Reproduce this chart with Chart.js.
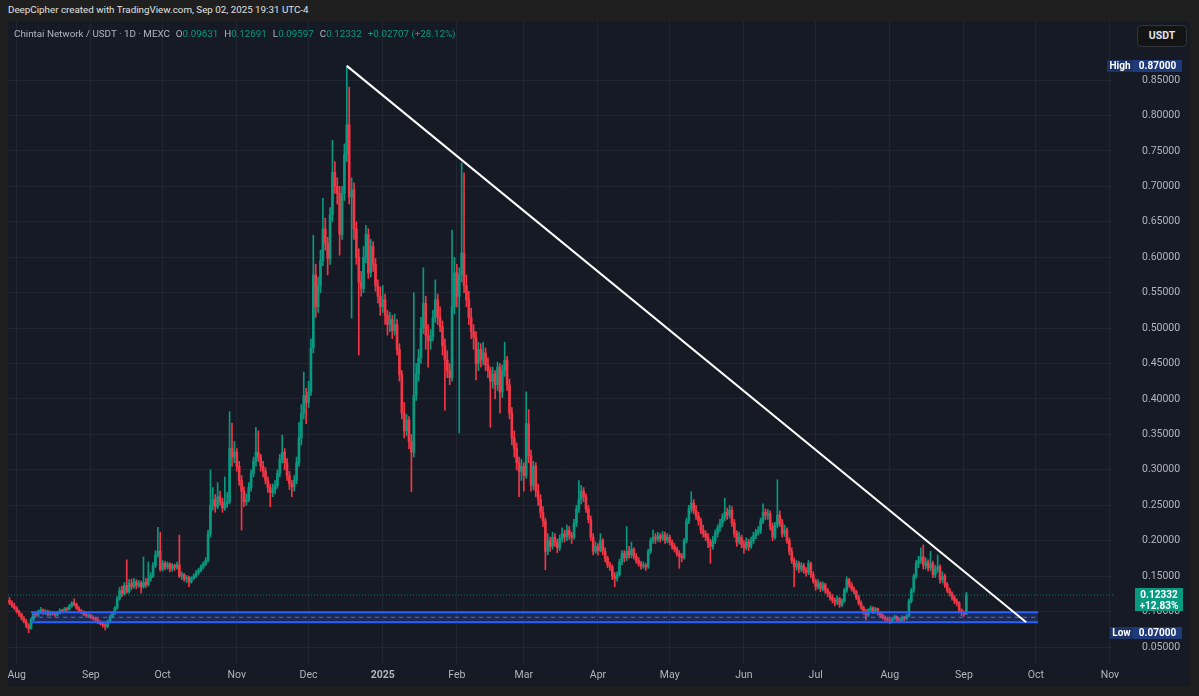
<!DOCTYPE html>
<html>
<head>
<meta charset="utf-8">
<title>Chintai Network / USDT</title>
<script src="https://cdn.jsdelivr.net/npm/chart.js"></script>
<style>
  html, body { margin: 0; padding: 0; width: 1199px; height: 696px; overflow: hidden; background: #1f1f1f; font-family: Roboto, "Noto Sans", sans-serif; }
  #credit { position: absolute; left: 8px; top: 4px; font-size: 9.8px; color: #e0e0e0; white-space: nowrap; }
  #panel { position: absolute; left: 8px; top: 21px; width: 1182px; height: 665px; background: #161a25; }
  #legend { position: absolute; left: 14px; top: 28px; font-size: 9.8px; color: #b2b5be; white-space: nowrap; }
  #legend .k { margin-left: 6px; }
  #legend .v { color: #089981; }
  #unit { position: absolute; left: 1137px; top: 25px; width: 48px; height: 20px; border: 1px solid #34373f; border-radius: 4px; background: #141414; color: #e0e3eb; font-size: 10.5px; font-weight: bold; line-height: 20px; text-align: center; }
</style>
</head>
<body>
<div id="credit">DeepCipher created with TradingView.com, Sep 02, 2025 19:31 UTC-4</div>
<div id="panel"><canvas id="chart" width="1182" height="665"></canvas></div>
<div id="legend">Chintai Network / USDT · 1D · MEXC<span class="k">O<span class="v">0.09631</span></span><span class="k">H<span class="v">0.12691</span></span><span class="k">L<span class="v">0.09597</span></span><span class="k">C<span class="v">0.12332</span></span><span class="k v">+0.02707 (+28.12%)</span></div>
<div id="unit">USDT</div>
<script>
// daily candles, first one is 2024-07-29, last one 2025-09-02
var firstCandle = "2024-07-29";

var opens = [
  0.116,0.112,0.108,0.105,0.100,0.096,0.091,0.086,0.080,0.076,
  0.089,0.097,0.095,0.099,0.102,0.098,0.100,0.096,0.099,0.097,
  0.095,0.098,0.101,0.100,0.104,0.103,0.108,0.112,0.110,0.105,
  0.101,0.099,0.096,0.094,0.095,0.092,0.090,0.088,0.085,0.083,
  0.081,0.079,0.086,0.093,0.098,0.105,0.118,0.130,0.125,0.137,
  0.128,0.140,0.135,0.142,0.137,0.140,0.135,0.141,0.138,0.146,
  0.150,0.165,0.180,0.185,0.160,0.168,0.163,0.167,0.160,0.165,
  0.162,0.166,0.150,0.152,0.146,0.148,0.142,0.147,0.150,0.155,
  0.158,0.163,0.167,0.172,0.210,0.250,0.258,0.248,0.262,0.255,
  0.246,0.252,0.255,0.330,0.318,0.325,0.305,0.285,0.270,0.255,
  0.258,0.275,0.295,0.312,0.325,0.318,0.305,0.298,0.285,0.275,
  0.268,0.272,0.278,0.295,0.315,0.325,0.310,0.292,0.280,0.276,
  0.285,0.310,0.345,0.380,0.405,0.395,0.410,0.472,0.575,0.530,
  0.560,0.595,0.640,0.620,0.598,0.660,0.720,0.700,0.690,0.632,
  0.690,0.745,0.787,0.685,0.695,0.640,0.600,0.565,0.556,0.600,
  0.632,0.578,0.615,0.590,0.560,0.545,0.530,0.540,0.518,0.505,
  0.512,0.496,0.505,0.470,0.434,0.380,0.355,0.370,0.340,0.325,
  0.405,0.435,0.458,0.500,0.535,0.490,0.482,0.488,0.515,0.540,
  0.515,0.502,0.475,0.455,0.440,0.430,0.530,0.578,0.545,0.575,
  0.606,0.560,0.540,0.515,0.495,0.487,0.450,0.470,0.455,0.465,
  0.448,0.440,0.425,0.435,0.420,0.445,0.410,0.440,0.455,0.420,
  0.380,0.345,0.330,0.310,0.298,0.305,0.292,0.365,0.320,0.278,
  0.305,0.270,0.258,0.240,0.228,0.185,0.200,0.192,0.205,0.198,
  0.190,0.203,0.210,0.205,0.215,0.208,0.205,0.225,0.245,0.258,
  0.270,0.262,0.245,0.230,0.205,0.185,0.192,0.186,0.200,0.185,
  0.175,0.166,0.163,0.150,0.147,0.152,0.170,0.182,0.176,0.185,
  0.180,0.188,0.178,0.172,0.168,0.164,0.165,0.163,0.185,0.200,
  0.205,0.202,0.207,0.203,0.208,0.200,0.205,0.198,0.192,0.188,
  0.182,0.178,0.176,0.200,0.228,0.245,0.253,0.243,0.235,0.228,
  0.215,0.210,0.205,0.198,0.192,0.200,0.210,0.218,0.225,0.232,
  0.240,0.236,0.243,0.225,0.210,0.198,0.205,0.195,0.190,0.198,
  0.192,0.200,0.207,0.212,0.215,0.228,0.240,0.236,0.238,0.220,
  0.205,0.222,0.236,0.225,0.210,0.215,0.200,0.185,0.172,0.163,
  0.168,0.160,0.165,0.158,0.155,0.168,0.152,0.143,0.135,0.140,
  0.132,0.138,0.130,0.125,0.120,0.116,0.113,0.118,0.110,0.115,
  0.130,0.145,0.138,0.132,0.128,0.120,0.112,0.106,0.100,0.095,
  0.102,0.105,0.100,0.104,0.098,0.095,0.092,0.090,0.088,0.086,
  0.090,0.093,0.089,0.087,0.092,0.090,0.094,0.115,0.130,0.150,
  0.168,0.172,0.177,0.165,0.170,0.162,0.168,0.152,0.160,0.163,
  0.145,0.150,0.138,0.130,0.126,0.120,0.115,0.112,0.102,0.098,
  0.09631
];

var highs = [
  0.120,0.115,0.112,0.107,0.102,0.098,0.093,0.089,0.083,0.091,
  0.099,0.100,0.102,0.106,0.104,0.103,0.102,0.101,0.100,0.099,
  0.100,0.104,0.103,0.106,0.106,0.110,0.114,0.118,0.112,0.107,
  0.103,0.101,0.098,0.097,0.096,0.094,0.092,0.090,0.087,0.085,
  0.083,0.088,0.095,0.100,0.107,0.121,0.134,0.136,0.141,0.173,
  0.145,0.146,0.147,0.145,0.144,0.143,0.177,0.147,0.170,0.155,
  0.169,0.186,0.219,0.212,0.172,0.171,0.170,0.169,0.168,0.167,
  0.170,0.208,0.156,0.154,0.151,0.150,0.149,0.153,0.158,0.161,
  0.166,0.170,0.176,0.215,0.300,0.275,0.265,0.282,0.270,0.260,
  0.290,0.268,0.382,0.366,0.340,0.330,0.312,0.292,0.276,0.266,
  0.282,0.300,0.318,0.360,0.355,0.322,0.312,0.303,0.290,0.280,
  0.280,0.285,0.300,0.322,0.349,0.330,0.316,0.298,0.285,0.292,
  0.318,0.367,0.392,0.438,0.415,0.425,0.485,0.631,0.590,0.572,
  0.610,0.683,0.655,0.628,0.670,0.765,0.735,0.712,0.700,0.700,
  0.760,0.870,0.840,0.712,0.705,0.650,0.612,0.580,0.615,0.645,
  0.640,0.625,0.622,0.598,0.568,0.558,0.560,0.548,0.525,0.522,
  0.518,0.520,0.512,0.478,0.440,0.395,0.378,0.375,0.350,0.550,
  0.450,0.470,0.515,0.585,0.545,0.505,0.498,0.525,0.568,0.548,
  0.530,0.510,0.485,0.468,0.450,0.638,0.600,0.590,0.585,0.733,
  0.719,0.575,0.552,0.528,0.505,0.495,0.480,0.478,0.480,0.472,
  0.458,0.445,0.445,0.440,0.452,0.450,0.448,0.480,0.460,0.428,
  0.388,0.355,0.338,0.318,0.315,0.310,0.410,0.385,0.328,0.312,
  0.310,0.280,0.265,0.248,0.232,0.210,0.205,0.212,0.210,0.202,
  0.208,0.218,0.215,0.222,0.220,0.212,0.230,0.250,0.285,0.278,
  0.275,0.266,0.250,0.235,0.210,0.198,0.196,0.210,0.203,0.190,
  0.178,0.170,0.166,0.155,0.156,0.174,0.186,0.186,0.220,0.192,
  0.198,0.190,0.182,0.176,0.171,0.170,0.168,0.188,0.204,0.215,
  0.210,0.212,0.210,0.213,0.212,0.210,0.208,0.201,0.196,0.191,
  0.186,0.182,0.203,0.232,0.250,0.269,0.258,0.250,0.240,0.232,
  0.222,0.214,0.210,0.202,0.206,0.215,0.222,0.230,0.238,0.260,
  0.246,0.250,0.248,0.230,0.214,0.212,0.208,0.200,0.204,0.202,
  0.205,0.212,0.216,0.220,0.232,0.252,0.245,0.244,0.242,0.225,
  0.226,0.286,0.242,0.230,0.222,0.218,0.204,0.190,0.176,0.172,
  0.171,0.169,0.168,0.162,0.172,0.170,0.156,0.146,0.145,0.142,
  0.142,0.140,0.133,0.128,0.124,0.119,0.122,0.120,0.118,0.133,
  0.149,0.147,0.141,0.135,0.130,0.123,0.115,0.108,0.103,0.104,
  0.108,0.107,0.106,0.105,0.100,0.097,0.094,0.092,0.090,0.092,
  0.095,0.094,0.091,0.094,0.093,0.096,0.118,0.133,0.153,0.172,
  0.178,0.190,0.194,0.176,0.173,0.185,0.171,0.165,0.180,0.166,
  0.156,0.153,0.141,0.133,0.128,0.123,0.118,0.114,0.104,0.101,
  0.12691
];

var lows = [
  0.110,0.106,0.103,0.098,0.093,0.088,0.084,0.077,0.070,0.075,
  0.087,0.092,0.093,0.097,0.096,0.096,0.094,0.094,0.095,0.093,
  0.094,0.097,0.098,0.099,0.101,0.102,0.106,0.108,0.103,0.099,
  0.097,0.094,0.092,0.092,0.090,0.088,0.086,0.083,0.081,0.078,
  0.074,0.077,0.084,0.091,0.096,0.103,0.116,0.121,0.123,0.126,
  0.126,0.131,0.133,0.132,0.134,0.126,0.133,0.134,0.136,0.143,
  0.148,0.162,0.177,0.157,0.157,0.159,0.160,0.156,0.157,0.158,
  0.160,0.148,0.145,0.143,0.141,0.135,0.140,0.145,0.148,0.152,
  0.156,0.160,0.165,0.170,0.205,0.243,0.240,0.245,0.250,0.240,
  0.243,0.247,0.252,0.305,0.310,0.298,0.278,0.215,0.248,0.250,
  0.255,0.270,0.290,0.305,0.312,0.298,0.290,0.280,0.268,0.248,
  0.262,0.266,0.274,0.290,0.310,0.300,0.285,0.272,0.262,0.270,
  0.280,0.305,0.335,0.372,0.365,0.388,0.405,0.465,0.515,0.522,
  0.550,0.588,0.610,0.575,0.590,0.650,0.690,0.675,0.603,0.625,
  0.680,0.735,0.675,0.514,0.625,0.590,0.462,0.545,0.550,0.592,
  0.570,0.572,0.580,0.552,0.535,0.518,0.522,0.505,0.490,0.495,
  0.485,0.490,0.462,0.425,0.372,0.345,0.348,0.330,0.269,0.318,
  0.398,0.425,0.450,0.492,0.470,0.445,0.470,0.482,0.508,0.505,
  0.495,0.462,0.384,0.430,0.420,0.425,0.520,0.530,0.352,0.565,
  0.550,0.530,0.505,0.485,0.470,0.427,0.440,0.445,0.448,0.440,
  0.430,0.360,0.415,0.400,0.412,0.380,0.402,0.432,0.412,0.372,
  0.335,0.318,0.300,0.262,0.285,0.270,0.288,0.310,0.270,0.272,
  0.262,0.250,0.232,0.220,0.159,0.180,0.185,0.188,0.192,0.183,
  0.186,0.198,0.198,0.200,0.202,0.196,0.202,0.220,0.240,0.252,
  0.255,0.240,0.225,0.200,0.180,0.182,0.180,0.184,0.180,0.170,
  0.162,0.158,0.145,0.135,0.143,0.150,0.166,0.170,0.172,0.175,
  0.176,0.174,0.168,0.164,0.160,0.161,0.158,0.161,0.182,0.196,
  0.196,0.199,0.198,0.200,0.196,0.197,0.194,0.188,0.184,0.178,
  0.161,0.170,0.174,0.197,0.224,0.240,0.238,0.230,0.222,0.210,
  0.205,0.200,0.190,0.168,0.188,0.196,0.205,0.213,0.220,0.228,
  0.230,0.232,0.220,0.205,0.192,0.195,0.190,0.182,0.187,0.186,
  0.189,0.196,0.203,0.208,0.210,0.224,0.230,0.230,0.215,0.200,
  0.202,0.218,0.220,0.205,0.206,0.196,0.180,0.168,0.135,0.158,
  0.155,0.156,0.154,0.150,0.152,0.148,0.140,0.130,0.132,0.128,
  0.129,0.126,0.121,0.116,0.112,0.108,0.110,0.106,0.107,0.113,
  0.127,0.134,0.129,0.125,0.117,0.109,0.103,0.096,0.088,0.093,
  0.099,0.097,0.098,0.095,0.092,0.089,0.087,0.085,0.083,0.084,
  0.088,0.086,0.084,0.085,0.087,0.088,0.092,0.112,0.127,0.147,
  0.162,0.168,0.160,0.160,0.157,0.158,0.148,0.148,0.155,0.140,
  0.141,0.134,0.127,0.122,0.116,0.111,0.108,0.098,0.094,0.093,
  0.09597
];

var closes = [
  0.112,0.108,0.105,0.100,0.096,0.091,0.086,0.080,0.076,0.089,
  0.097,0.095,0.099,0.102,0.098,0.100,0.096,0.099,0.097,0.095,
  0.098,0.101,0.100,0.104,0.103,0.108,0.112,0.110,0.105,0.101,
  0.099,0.096,0.094,0.095,0.092,0.090,0.088,0.085,0.083,0.081,
  0.079,0.086,0.093,0.098,0.105,0.118,0.130,0.125,0.137,0.128,
  0.140,0.135,0.142,0.137,0.140,0.135,0.141,0.138,0.146,0.150,
  0.165,0.180,0.185,0.160,0.168,0.163,0.167,0.160,0.165,0.162,
  0.166,0.150,0.152,0.146,0.148,0.142,0.147,0.150,0.155,0.158,
  0.163,0.167,0.172,0.210,0.250,0.258,0.248,0.262,0.255,0.246,
  0.252,0.255,0.330,0.318,0.325,0.305,0.285,0.270,0.255,0.258,
  0.275,0.295,0.312,0.325,0.318,0.305,0.298,0.285,0.275,0.268,
  0.272,0.278,0.295,0.315,0.325,0.310,0.292,0.280,0.276,0.285,
  0.310,0.345,0.380,0.405,0.395,0.410,0.472,0.575,0.530,0.560,
  0.595,0.640,0.620,0.598,0.660,0.720,0.700,0.690,0.632,0.690,
  0.745,0.787,0.685,0.695,0.640,0.600,0.565,0.556,0.600,0.632,
  0.578,0.615,0.590,0.560,0.545,0.530,0.540,0.518,0.505,0.512,
  0.496,0.505,0.470,0.434,0.380,0.355,0.370,0.340,0.325,0.405,
  0.435,0.458,0.500,0.535,0.490,0.482,0.488,0.515,0.540,0.515,
  0.502,0.475,0.455,0.440,0.430,0.530,0.578,0.545,0.575,0.606,
  0.560,0.540,0.515,0.495,0.487,0.450,0.470,0.455,0.465,0.448,
  0.440,0.425,0.435,0.420,0.445,0.410,0.440,0.455,0.420,0.380,
  0.345,0.330,0.310,0.298,0.305,0.292,0.365,0.320,0.278,0.305,
  0.270,0.258,0.240,0.228,0.185,0.200,0.192,0.205,0.198,0.190,
  0.203,0.210,0.205,0.215,0.208,0.205,0.225,0.245,0.258,0.270,
  0.262,0.245,0.230,0.205,0.185,0.192,0.186,0.200,0.185,0.175,
  0.166,0.163,0.150,0.147,0.152,0.170,0.182,0.176,0.185,0.180,
  0.188,0.178,0.172,0.168,0.164,0.165,0.163,0.185,0.200,0.205,
  0.202,0.207,0.203,0.208,0.200,0.205,0.198,0.192,0.188,0.182,
  0.178,0.176,0.200,0.228,0.245,0.253,0.243,0.235,0.228,0.215,
  0.210,0.205,0.198,0.192,0.200,0.210,0.218,0.225,0.232,0.240,
  0.236,0.243,0.225,0.210,0.198,0.205,0.195,0.190,0.198,0.192,
  0.200,0.207,0.212,0.215,0.228,0.240,0.236,0.238,0.220,0.205,
  0.222,0.236,0.225,0.210,0.215,0.200,0.185,0.172,0.163,0.168,
  0.160,0.165,0.158,0.155,0.168,0.152,0.143,0.135,0.140,0.132,
  0.138,0.130,0.125,0.120,0.116,0.113,0.118,0.110,0.115,0.130,
  0.145,0.138,0.132,0.128,0.120,0.112,0.106,0.100,0.095,0.102,
  0.105,0.100,0.104,0.098,0.095,0.092,0.090,0.088,0.086,0.090,
  0.093,0.089,0.087,0.092,0.090,0.094,0.115,0.130,0.150,0.168,
  0.172,0.177,0.165,0.170,0.162,0.168,0.152,0.160,0.163,0.145,
  0.150,0.138,0.130,0.126,0.120,0.115,0.112,0.102,0.098,0.09631,
  0.12332
];

// time axis
var tickDates = ["2024-08-01","2024-09-01","2024-10-01","2024-11-01","2024-12-01","2025-01-01","2025-02-01","2025-03-01",
                 "2025-04-01","2025-05-01","2025-06-01","2025-07-01","2025-08-01","2025-09-01","2025-10-01","2025-11-01"];
var tickLabels = ["Aug","Sep","Oct","Nov","Dec","2025","Feb","Mar","Apr","May","Jun","Jul","Aug","Sep","Oct","Nov"];

// price axis
var priceTicks = [0.05,0.10,0.15,0.20,0.25,0.30,0.35,0.40,0.45,0.50,0.55,0.60,0.65,0.70,0.75,0.80,0.85];

// drawings on the chart
var trendFrom = ["2024-12-17", 0.870];
var trendTo = ["2025-09-27", 0.085];
var zoneFrom = "2024-08-07";
var zoneTo = "2025-10-02";
var zonePrices = [0.0849, 0.0919, 0.0990];
var highValue = 0.870;
var lowValue = 0.070;
var lastChange = "+12.83%";

var upColor = "#089981";
var downColor = "#f23645";

function dayOf(dateText) {
  var p = dateText.split("-");
  return (Date.UTC(+p[0], +p[1] - 1, +p[2]) - Date.UTC(2024, 7, 1)) / 86400000;
}

function candleColor(ctx) {
  var i = ctx.dataIndex;
  return closes[i] >= opens[i] ? upColor : downColor;
}

// chart.js pads the plot for tick labels, we want the plot to reach the panel edges
function noPadding(scale) {
  scale.paddingTop = 0;
  scale.paddingBottom = 0;
  scale.paddingLeft = 0;
  scale.paddingRight = 0;
}

var sideLabels = {
  id: "sideLabels",
  afterDraw: function (chart) {
    var ctx = chart.ctx;
    var y = chart.scales.y;
    var right = chart.chartArea.right;
    ctx.save();
    ctx.font = "bold 10px Roboto";
    ctx.textBaseline = "middle";
    ctx.textAlign = "center";

    function tag(name, value, nameLeft) {
      var py = Math.round(y.getPixelForValue(value));
      ctx.fillStyle = "#1c3366";
      ctx.fillRect(nameLeft, py - 6, right + 20 - nameLeft, 12);
      ctx.fillStyle = "#1f3a78";
      ctx.fillRect(right + 20, py - 6, 49, 12);
      ctx.fillStyle = "#ffffff";
      ctx.fillText(name, (nameLeft + right + 20) / 2, py);
      ctx.fillText(value.toFixed(5), right + 44.5, py);
    }
    tag("High", highValue, right - 6);
    tag("Low", lowValue, right - 3);

    var last = closes[closes.length - 1];
    var py = Math.round(y.getPixelForValue(last));
    ctx.fillStyle = upColor;
    ctx.fillRect(right + 22, py - 7, 48, 23);
    ctx.fillStyle = "#ffffff";
    ctx.fillText(last.toFixed(5), right + 46, py);
    ctx.fillText(lastChange, right + 46, py + 11);
    ctx.restore();
  }
};

window.onload = function () {
  var x0 = dayOf(firstCandle);
  var viewStart = -3.64;
  var viewEnd = 458.3;
  var lastClose = closes[closes.length - 1];

  var wicks = closes.map(function (c, i) { return { x: x0 + i, y: [lows[i], highs[i]] }; });
  var bodies = closes.map(function (c, i) { return { x: x0 + i, y: [opens[i], c] }; });
  var tickDays = tickDates.map(dayOf);

  var zoneLine = function (price) {
    return [{ x: dayOf(zoneFrom), y: price }, { x: dayOf(zoneTo), y: price }];
  };

  new Chart(document.getElementById("chart"), {
    type: "bar",
    data: {
      datasets: [
        {
          label: "wicks",
          data: wicks,
          backgroundColor: candleColor,
          barThickness: 1,
          grouped: false,
          order: 6
        },
        {
          label: "bodies",
          data: bodies,
          backgroundColor: candleColor,
          barThickness: 2,
          minBarLength: 1,
          grouped: false,
          order: 5
        },
        {
          type: "line",
          label: "last price",
          data: [{ x: viewStart, y: lastClose }, { x: viewEnd, y: lastClose }],
          borderColor: "rgba(8,153,129,0.8)",
          borderWidth: 1,
          borderDash: [1, 2],
          pointRadius: 0,
          order: 4
        },
        {
          type: "line",
          label: "zone top",
          data: zoneLine(zonePrices[2]),
          borderColor: "#2962ff",
          borderWidth: 2,
          backgroundColor: "rgba(41,98,255,0.22)",
          fill: "+1",
          pointRadius: 0,
          order: 2
        },
        {
          type: "line",
          label: "zone bottom",
          data: zoneLine(zonePrices[0]),
          borderColor: "#2962ff",
          borderWidth: 2,
          fill: false,
          pointRadius: 0,
          order: 2
        },
        {
          type: "line",
          label: "zone middle",
          data: zoneLine(zonePrices[1]),
          borderColor: "rgba(110,135,200,0.85)",
          borderWidth: 1,
          borderDash: [4, 4],
          fill: false,
          pointRadius: 0,
          order: 3
        },
        {
          type: "line",
          label: "trend",
          data: [{ x: dayOf(trendFrom[0]), y: trendFrom[1] }, { x: dayOf(trendTo[0]), y: trendTo[1] }],
          borderColor: "#ffffff",
          borderWidth: 2,
          fill: false,
          pointRadius: 0,
          order: 0
        }
      ]
    },
    options: {
      responsive: false,
      animation: false,
      layout: { padding: 0 },
      plugins: {
        legend: { display: false },
        tooltip: { enabled: false }
      },
      scales: {
        x: {
          type: "linear",
          min: viewStart,
          max: viewEnd,
          offset: false,
          afterBuildTicks: function (scale) {
            scale.ticks = tickDays.map(function (d) { return { value: d }; });
          },
          afterFit: function (scale) {
            scale.height = 23;
            noPadding(scale);
          },
          grid: { color: "#222632", drawTicks: false, offset: false },
          border: { display: false },
          ticks: {
            autoSkip: false,
            maxRotation: 0,
            padding: 6,
            color: "#b2b5be",
            font: function (ctx) {
              var bold = ctx.tick && ctx.tick.label === "2025";
              return { family: "Roboto", size: 10.5, weight: bold ? "bold" : "normal" };
            },
            callback: function (value, index) { return tickLabels[index]; }
          }
        },
        y: {
          position: "right",
          min: 0.02743,
          max: 0.9333,
          afterBuildTicks: function (scale) {
            scale.ticks = priceTicks.map(function (v) { return { value: v }; });
          },
          afterFit: function (scale) {
            scale.width = 77;
            noPadding(scale);
          },
          grid: { color: "#222632", drawTicks: false },
          border: { display: false },
          ticks: {
            autoSkip: false,
            padding: 29,
            color: "#b2b5be",
            font: { family: "Roboto", size: 10.5 },
            callback: function (value) { return value.toFixed(5); }
          }
        }
      }
    },
    plugins: [sideLabels]
  });
};
</script>
</body>
</html>
